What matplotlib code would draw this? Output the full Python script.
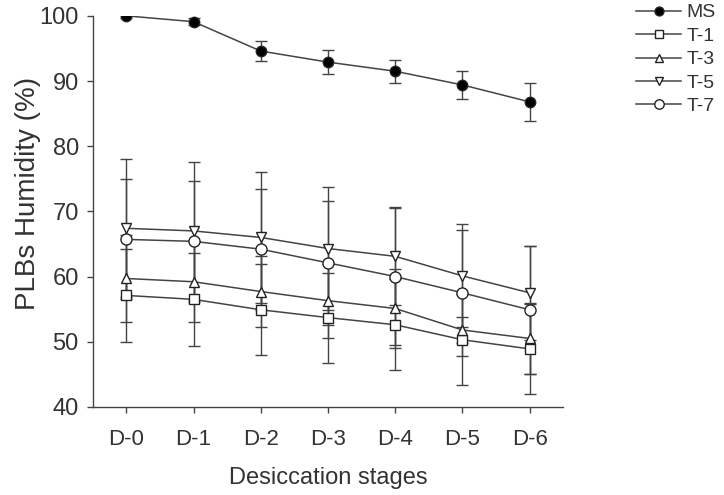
import matplotlib
matplotlib.use("Agg")
import matplotlib.pyplot as plt
from matplotlib.lines import Line2D
import numpy as np

plt.rcParams['font.family'] = ['Liberation Sans', 'DejaVu Sans']

stages = ["D-0", "D-1", "D-2", "D-3", "D-4", "D-5", "D-6"]
ms = [100.0, 99.1, 94.6, 92.9, 91.5, 89.4, 86.8]
ms_err = [0.3, 0.5, 1.5, 1.8, 1.8, 2.2, 2.9]
t1 = [57.1, 56.5, 54.9, 53.7, 52.6, 50.3, 48.9]
t1_err = [7.1, 7.1, 7.0, 6.9, 7.0, 7.0, 6.9]
t3 = [59.7, 59.2, 57.7, 56.3, 55.1, 51.8, 50.5]
t3_err = [6.6, 6.2, 5.5, 5.7, 6.0, 2.0, 5.5]
t5 = [67.4, 67.0, 66.0, 64.3, 63.1, 60.1, 57.5]
t5_err = [10.6, 10.6, 10.0, 9.5, 7.5, 7.9, 7.2]
t7 = [65.7, 65.4, 64.2, 62.1, 60.0, 57.5, 54.9]
t7_err = [9.2, 9.3, 9.3, 9.5, 10.5, 9.7, 9.8]

fig = plt.figure(figsize=(7.24, 4.95), dpi=100)
ax = fig.add_axes([0.128, 0.178, 0.650, 0.790])
x = np.arange(len(stages))

line_col = '#444444'
series = [
    ("MS", ms, ms_err, 'o', 'black', 7.5),
    ("T-1", t1, t1_err, 's', 'white', 6.5),
    ("T-3", t3, t3_err, '^', 'white', 6.5),
    ("T-5", t5, t5_err, 'v', 'white', 6.5),
    ("T-7", t7, t7_err, 'o', 'white', 8),
]
handles = []
for name, y, e, mk, fc, msz in series:
    ax.errorbar(x, y, yerr=e, fmt='-', marker=mk, color=line_col, mfc=fc,
                mec='#222222', ms=msz, lw=1.1, elinewidth=1.0,
                capsize=4.5, capthick=1.0, zorder=3)
    handles.append(Line2D([], [], color=line_col, lw=1.1, marker=mk, mfc=fc,
                          mec='#222222', ms=msz * 0.85))

ax.set_xlim(-0.5, 6.5)
ax.set_ylim(40, 100)
ax.set_xticks(x)
ax.set_xticklabels(stages)
ax.set_yticks(np.arange(40, 101, 10))
for s in ['top', 'right']:
    ax.spines[s].set_visible(False)
for s in ['left', 'bottom']:
    ax.spines[s].set_color('#444444')
    ax.spines[s].set_linewidth(1.0)
ax.tick_params(direction='out', length=4, width=1.0, color='#444444',
               labelcolor='#333333')
ax.tick_params(axis='y', pad=6, labelsize=17)
ax.tick_params(axis='x', pad=12, labelsize=16)
ax.set_xlabel("Desiccation stages", fontsize=17, color='#333333', labelpad=12)
ax.set_ylabel("PLBs Humidity (%)", fontsize=20, color='#333333')
ax.yaxis.set_label_coords(-0.110, 0.545)

leg = fig.legend(handles=handles, labels=[s[0] for s in series],
                 loc='upper left', bbox_to_anchor=(0.868, 1.008),
                 frameon=False, fontsize=14, handlelength=2.3,
                 labelspacing=0.3, handletextpad=0.3, borderaxespad=0)
for t in leg.get_texts():
    t.set_color('#333333')

fig.savefig("out.png", dpi=100)
